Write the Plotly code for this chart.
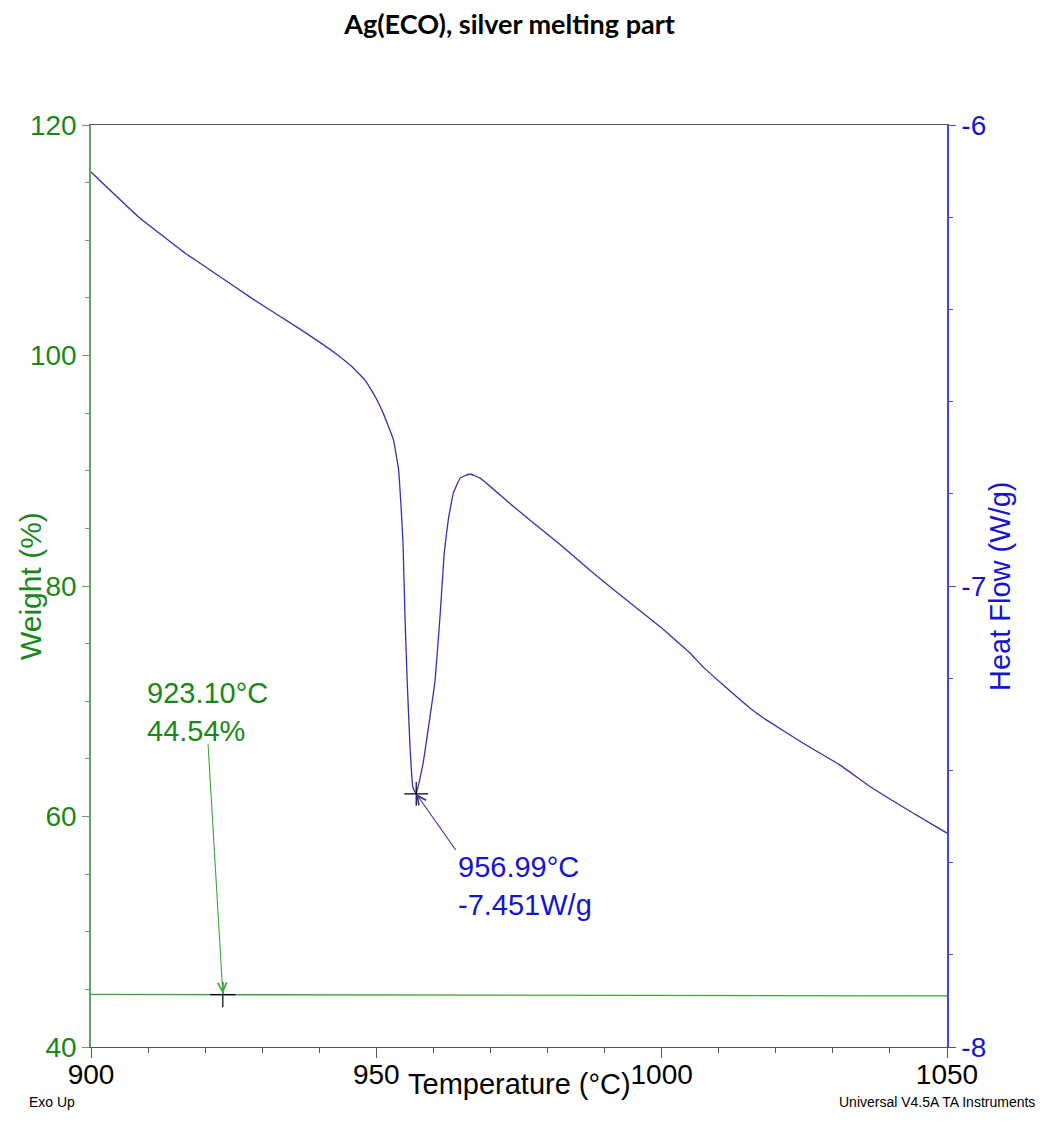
import plotly.graph_objects as go

# ---- data ----
temp_hf = [900, 908.3, 916.5, 918.8, 928.2, 936.9, 942.8, 945.7, 948.0, 949.8,
           951.2, 953.0, 953.9, 954.4, 954.7, 955.0, 955.4, 955.9, 956.4, 956.99,
           958.2, 959.4, 960.3, 961.2, 961.9, 962.6, 963.5, 964.7, 966.4, 968.2,
           973.4, 976.9, 982.2, 988.0, 993.9, 999.7, 1005.0, 1007.3, 1010.8, 1015.5,
           1018.4, 1024.8, 1031.2, 1036.5, 1044.1, 1050]
heat_flow = [-6.102, -6.199, -6.278, -6.297, -6.376, -6.445, -6.495, -6.524, -6.553, -6.589,
             -6.625, -6.683, -6.748, -6.842, -6.915, -7.059, -7.204, -7.349, -7.436, -7.451,
             -7.384, -7.284, -7.204, -7.059, -6.928, -6.857, -6.798, -6.766, -6.757, -6.766,
             -6.821, -6.857, -6.910, -6.972, -7.031, -7.088, -7.146, -7.176, -7.215, -7.265,
             -7.291, -7.341, -7.388, -7.435, -7.493, -7.536]

temp_w = [900, 923.1, 960, 1000, 1050]
weight = [44.56, 44.54, 44.51, 44.47, 44.43]

w_mark = (923.10, 44.54)
hf_mark = (956.99, -7.451)

x_ticks = [900, 950, 1000, 1050]
y_ticks = [40, 60, 80, 100, 120]
y2_ticks = [-8, -7, -6]
y2_labels = ["-8", "-7", "-6"]

GREEN_TXT = "rgb(25,135,25)"
GREEN_LINE = "rgb(60,165,60)"
GREEN_AX = "rgb(100,160,100)"
BLUE_TXT = "rgb(20,20,210)"
BLUE_LINE = "rgb(50,50,175)"
BLUE_AX = "rgb(70,70,210)"
GRAY = "rgb(85,85,85)"
FONT = "Liberation Sans, Arial, sans-serif"

# page offset of the plot div (default body margin)
OFF = 8
W, H = 1045 - 2 * OFF, 1126 - 2 * OFF
L, T = 91 - OFF, 125 - OFF
R = W - (947 - OFF)
B = H - (1047 - OFF)
pw, ph = W - L - R, H - T - B


def paper(px, py):
    """page pixel -> plot-area paper fraction"""
    fx, fy = px - OFF, py - OFF
    return (fx - L) / pw, (H - B - fy) / ph


fig = go.Figure()
fig.add_trace(go.Scatter(x=temp_w, y=weight, mode="lines",
                         line=dict(color=GREEN_LINE, width=1.3), yaxis="y", showlegend=False))
fig.add_trace(go.Scatter(x=temp_hf, y=heat_flow, mode="lines",
                         line=dict(color=BLUE_LINE, width=1.3, shape="spline", smoothing=0.3),
                         yaxis="y2", showlegend=False))
fig.add_trace(go.Scatter(x=[w_mark[0]], y=[w_mark[1]], mode="markers", yaxis="y",
                         marker=dict(symbol="cross-thin", size=18, line=dict(color="black", width=1.2)),
                         showlegend=False))
fig.add_trace(go.Scatter(x=[hf_mark[0]], y=[hf_mark[1]], mode="markers", yaxis="y2",
                         marker=dict(symbol="cross-thin", size=17, line=dict(color="black", width=1.2)),
                         showlegend=False))


def pa(px, py, text, size, color, angle=0, xanchor="center", yanchor="middle"):
    x, y = paper(px, py)
    return dict(x=x, y=y, xref="paper", yref="paper", text=text, textangle=angle,
                xanchor=xanchor, yanchor=yanchor, showarrow=False,
                font=dict(family=FONT, size=size, color=color))


annotations = [
    # arrows
    dict(x=w_mark[0], y=w_mark[1] + 0.1, xref="x", yref="y", ax=920.5, ay=66.4, axref="x", ayref="y",
         text="", showarrow=True, arrowhead=5, arrowsize=1.6, arrowwidth=1.1, arrowcolor=GREEN_LINE),
    dict(x=hf_mark[0], y=hf_mark[1], xref="x", yref="y2", ax=964.1, ay=-7.576, axref="x", ayref="y2",
         text="", showarrow=True, arrowhead=5, arrowsize=1.6, arrowwidth=1.1, arrowcolor=BLUE_LINE),
    # value labels
    dict(x=909.5, y=72.25, xref="x", yref="y", xanchor="left", yanchor="top", align="left",
         text=f"{w_mark[0]:.2f}°C<br>{w_mark[1]:.2f}%", showarrow=False,
         font=dict(family=FONT, size=29, color=GREEN_TXT)),
    dict(x=963.9, y=-7.571, xref="x", yref="y2", xanchor="left", yanchor="top", align="left",
         text=f"{hf_mark[0]:.2f}°C<br>{hf_mark[1]:.3f}W/g", showarrow=False,
         font=dict(family=FONT, size=29, color=BLUE_TXT)),
    # axis titles and footers
    pa(30, 586, "Weight (%)", 30, GREEN_TXT, angle=-90),
    pa(1000, 587, "Heat Flow (W/g)", 29, BLUE_TXT, angle=-90),
    pa(520, 1084, "Temperature (°C)", 29, "black"),
    pa(27, 1102, "Exo Up", 14, "black", xanchor="left"),
    pa(1037, 1102, "Universal V4.5A TA Instruments", 14, "black", xanchor="right"),
]

fig.update_layout(
    width=W, height=H,
    margin=dict(l=L, r=R, t=T, b=B, pad=0),
    paper_bgcolor="white", plot_bgcolor="white",
    font=dict(family=FONT),
    title=dict(text="<b>Ag(ECO), silver melting part</b>", x=(509.5 - OFF) / W, xanchor="center",
               xref="container", y=1 - (25 - OFF) / H, yanchor="middle", yref="container",
               font=dict(family="Lato, Open Sans, sans-serif", size=27, color="black")),
    annotations=annotations,
    xaxis=dict(range=[900, 1050], tickvals=x_ticks, ticks="outside", ticklen=10, tickwidth=1.2,
               tickcolor=GRAY, linecolor=GRAY, linewidth=1.3, mirror=True, showgrid=False,
               zeroline=False, tickfont=dict(family=FONT, size=28, color="black"),
               ticklabelstandoff=-8,
               minor=dict(dtick=10, tick0=900, ticks="outside", ticklen=5, tickcolor=GRAY, tickwidth=1.2,
                          showgrid=False)),
    yaxis=dict(range=[40, 120], tickvals=y_ticks, ticks="outside", ticklen=7, tickwidth=1.2,
               tickcolor=GREEN_AX, linecolor=GREEN_AX, linewidth=1.5, showgrid=False, zeroline=False,
               tickfont=dict(family=FONT, size=28, color=GREEN_TXT),
               minor=dict(dtick=5, tick0=40, ticks="outside", ticklen=4, tickcolor=GREEN_AX, tickwidth=1.2,
                          showgrid=False)),
    yaxis2=dict(range=[-8, -6], overlaying="y", side="right", tickvals=y2_ticks, ticktext=y2_labels,
                ticks="outside", ticklen=7, tickwidth=1.2, tickcolor=BLUE_AX, linecolor=BLUE_AX,
                linewidth=1.5, showgrid=False, zeroline=False,
                tickfont=dict(family=FONT, size=28, color=BLUE_TXT),
                minor=dict(dtick=0.2, tick0=-8, ticks="outside", ticklen=4, tickcolor=BLUE_AX, tickwidth=1.2,
                           showgrid=False)),
)

fig.write_html("out.html")
